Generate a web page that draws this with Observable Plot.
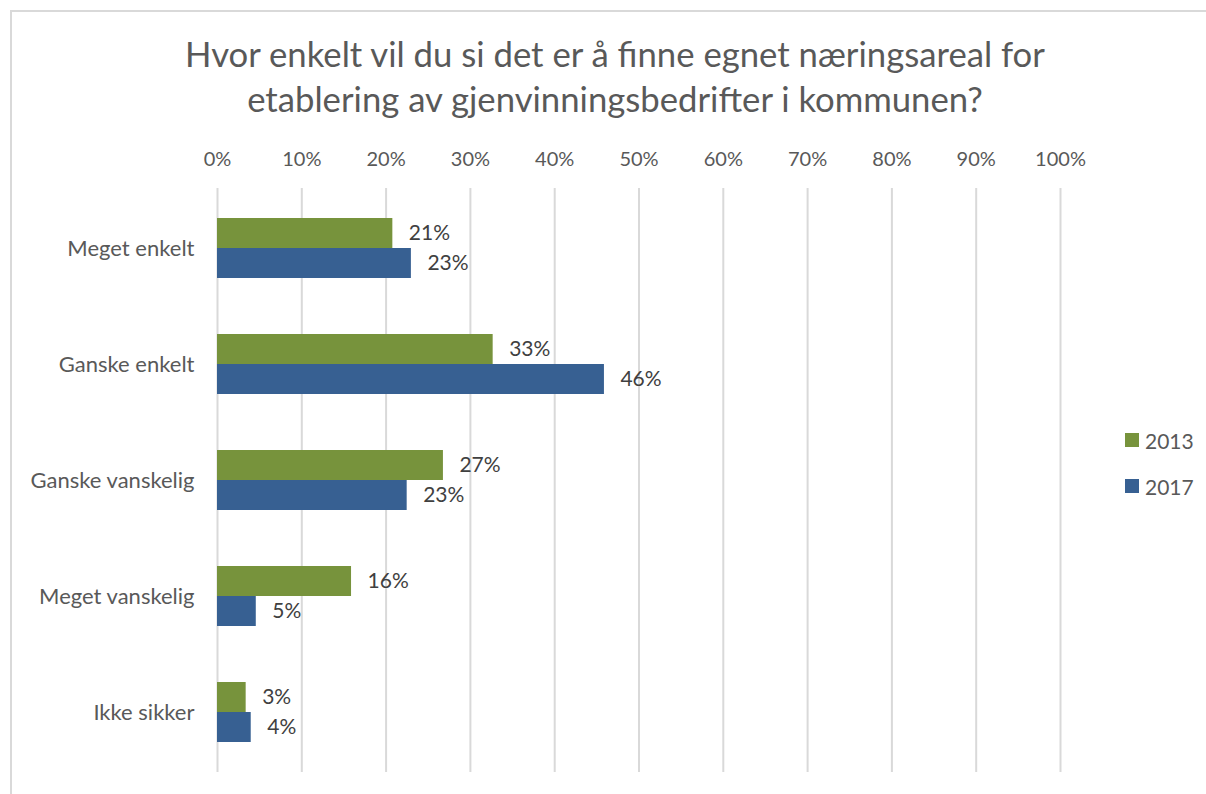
<!DOCTYPE html>
<html>
<head>
<meta charset="utf-8">
<script src="https://cdn.jsdelivr.net/npm/d3@7"></script>
<script src="https://cdn.jsdelivr.net/npm/@observablehq/plot@0.6"></script>
<style>
  body { margin: 0; background: #fff; font-family: Lato, "Open Sans", sans-serif; }
  #wrap { position: relative; width: 1206px; height: 794px; overflow: hidden; }
  #frame { position: absolute; left: 10px; top: 10px; width: 1300px; height: 900px;
           border-top: 2px solid #d9d9d9; border-left: 2px solid #d9d9d9; }
  #title { position: absolute; top: 31px; left: 0; width: 1230px; text-align: center;
           font-size: 34.7px; line-height: 45px; color: #595959; }
  #chart { position: absolute; top: 130px; left: 0; }
  #legend { position: absolute; left: 1125px; top: 427px; font-size: 21px; color: #595959; }
  .li { display: flex; align-items: center; height: 26px; margin-bottom: 20px; }
  .sw { width: 14px; height: 14px; margin-right: 6px; }
</style>
</head>
<body>
<div id="wrap">
  <div id="frame"></div>
  <div id="title">Hvor enkelt vil du si det er å finne egnet næringsareal for<br>etablering av gjenvinningsbedrifter i kommunen?</div>
  <div id="chart"></div>
  <div id="legend"></div>
</div>
<script>
const categories = ["Meget enkelt", "Ganske enkelt", "Ganske vanskelig", "Meget vanskelig", "Ikke sikker"];
const series = ["2013", "2017"];
const values2013 = [0.208, 0.327, 0.268, 0.159, 0.034];
const values2017 = [0.230, 0.459, 0.225, 0.046, 0.040];
const colors = ["#77933C", "#376092"];
const tickValues = [0, 0.1, 0.2, 0.3, 0.4, 0.5, 0.6, 0.7, 0.8, 0.9, 1.0];

const data = [];
categories.forEach((c, i) => {
  data.push({category: c, year: series[0], value: values2013[i]});
  data.push({category: c, year: series[1], value: values2017[i]});
});
const d13 = data.filter(d => d.year === series[0]);
const d17 = data.filter(d => d.year === series[1]);
const pct = v => Math.round(v * 100) + "%";

const chart = Plot.plot({
  width: 1206,
  height: 664,
  marginTop: 58,
  marginBottom: 22,
  marginLeft: 217,
  marginRight: 146,
  style: {fontFamily: "Lato, 'Open Sans', sans-serif", color: "#595959", background: "transparent"},
  x: {domain: [0, 1]},
  y: {domain: categories, paddingInner: 0.486, paddingOuter: 0.243},
  color: {domain: series, range: colors},
  marks: [
    Plot.gridX(tickValues, {stroke: "#d9d9d9", strokeOpacity: 1, strokeWidth: 2}),
    Plot.axisX(tickValues, {anchor: "top", tickSize: 0, tickPadding: 23, fontSize: 20,
      tickFormat: pct, fill: "#595959", label: null}),
    Plot.axisY({tickSize: 0, tickPadding: 23, fontSize: 22, fill: "#595959", label: null}),
    Plot.barX(d13, {x: "value", y: "category", fill: "year", insetBottom: 30}),
    Plot.barX(d17, {x: "value", y: "category", fill: "year", insetTop: 30}),
    Plot.text(d13, {x: "value", y: "category", text: d => pct(d.value), dx: 16, dy: -15,
      textAnchor: "start", fontSize: 21, fill: "#404040"}),
    Plot.text(d17, {x: "value", y: "category", text: d => pct(d.value), dx: 16, dy: 15,
      textAnchor: "start", fontSize: 21, fill: "#404040"})
  ]
});
document.getElementById("chart").appendChild(chart);

const leg = document.getElementById("legend");
series.forEach((s, i) => {
  const row = document.createElement("div");
  row.className = "li";
  const sw = document.createElement("span");
  sw.className = "sw";
  sw.style.background = colors[i];
  const t = document.createElement("span");
  t.textContent = s;
  row.appendChild(sw);
  row.appendChild(t);
  leg.appendChild(row);
});
</script>
</body>
</html>
